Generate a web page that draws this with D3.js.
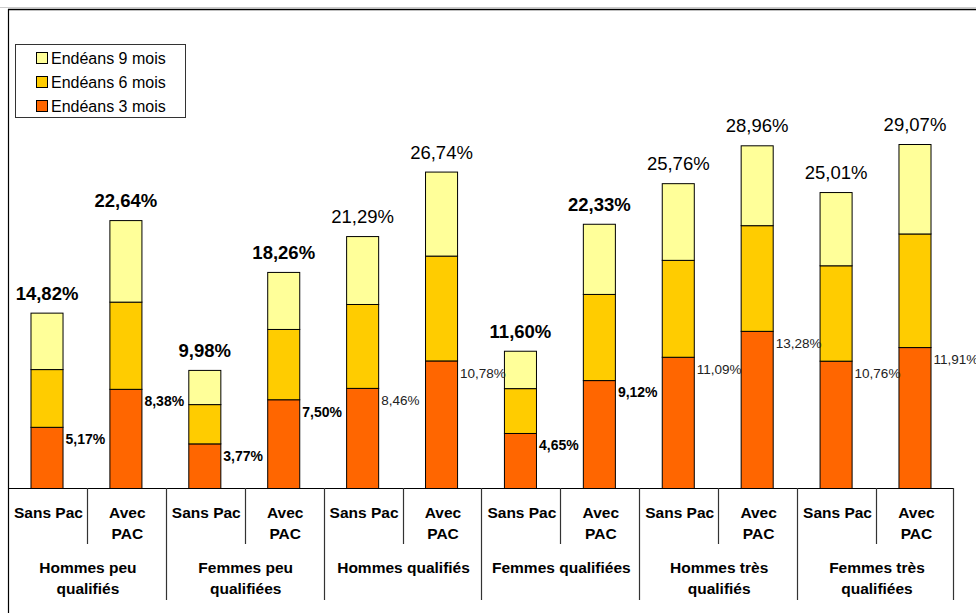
<!DOCTYPE html>
<html>
<head>
<meta charset="utf-8">
<script src="https://cdn.jsdelivr.net/npm/d3@7/dist/d3.min.js"></script>
<style>
  html, body { margin: 0; padding: 0; background: #fff; }
  svg { display: block; font-family: Arial, "Liberation Sans", sans-serif; }
</style>
</head>
<body>
<svg id="chart" width="976" height="613"></svg>
<script>
// Groups and sub-categories
const groups = ["Hommes peu qualifiés", "Femmes peu qualifiées", "Hommes qualifiés",
                "Femmes qualifiées", "Hommes très qualifiés", "Femmes très qualifiées"];
const groupLines = [["Hommes peu", "qualifiés"], ["Femmes peu", "qualifiées"], ["Hommes qualifiés"],
                    ["Femmes qualifiées"], ["Hommes très", "qualifiés"], ["Femmes très", "qualifiées"]];
const subLines = [["Sans Pac"], ["Avec", "PAC"]];

// Cumulative shares (%) per bar, in order of groups x (Sans Pac, Avec PAC)
const within3 = [5.17, 8.38, 3.77, 7.50, 8.46, 10.78, 4.65, 9.12, 11.09, 13.28, 10.76, 11.91];
const within6 = [10.05, 15.75, 7.09, 13.44, 15.55, 19.64, 8.44, 16.40, 19.28, 22.21, 18.82, 21.51];
const within9 = [14.82, 22.64, 9.98, 18.26, 21.29, 26.74, 11.60, 22.33, 25.76, 28.96, 25.01, 29.07];
// Bars whose labels are set in bold
const boldLabel = [true, true, true, true, false, false, true, true, false, false, false, false];

const seriesNames = ["Endéans 9 mois", "Endéans 6 mois", "Endéans 3 mois"];
const seriesColors = ["#FFFF99", "#FFCC00", "#FF6600"];

const fmt = v => v.toFixed(2).replace(".", ",") + "%";

const svg = d3.select("#chart");
const left = 8, right = 953, base = 488;

const x = d3.scaleBand()
  .domain(d3.range(within9.length))
  .range([left, right])
  .paddingInner(0.594)
  .paddingOuter(0.285);
const y = d3.scaleLinear().domain([0, 30]).range([base, base - 355]);

// Outer frame
svg.append("line").attr("x1", 0).attr("x2", 976).attr("y1", 7.5).attr("y2", 7.5)
  .attr("stroke", "#ccc").attr("stroke-width", 1);
svg.append("line").attr("x1", left).attr("x2", 976).attr("y1", 9.5).attr("y2", 9.5)
  .attr("stroke", "#000").attr("stroke-width", 1.5);
svg.append("line").attr("x1", left + 0.5).attr("x2", left + 0.5).attr("y1", 9).attr("y2", 613)
  .attr("stroke", "#000").attr("stroke-width", 1.2);

// Stacked bars
const stacks = within9.map((t, i) => [
  { lo: 0, hi: within3[i], c: seriesColors[2] },
  { lo: within3[i], hi: within6[i], c: seriesColors[1] },
  { lo: within6[i], hi: t, c: seriesColors[0] }
]);
const barG = svg.append("g");
stacks.forEach((segs, i) => {
  barG.selectAll(null).data(segs).enter().append("rect")
    .attr("x", x(i) + 0.5)
    .attr("width", x.bandwidth())
    .attr("y", d => y(d.hi) + 0.5)
    .attr("height", d => y(d.lo) - y(d.hi))
    .attr("fill", d => d.c)
    .attr("stroke", "#000")
    .attr("stroke-width", 1);
});

// Total labels above bars
svg.append("g").selectAll("text").data(within9).enter().append("text")
  .attr("x", (d, i) => x(i) + x.bandwidth() / 2 + 0.5)
  .attr("y", d => y(d) - 13)
  .attr("text-anchor", "middle")
  .attr("font-size", 18.5)
  .attr("font-weight", (d, i) => boldLabel[i] ? "bold" : "normal")
  .attr("fill", "#000")
  .text(fmt);

// 3-month labels beside the bars
svg.append("g").selectAll("text").data(within3).enter().append("text")
  .attr("x", (d, i) => x(i) + x.bandwidth() + 3)
  .attr("y", d => y(d) + 12.5)
  .attr("dy", "0.35em")
  .attr("font-size", (d, i) => boldLabel[i] ? 14 : 13.5)
  .attr("font-weight", (d, i) => boldLabel[i] ? "bold" : "normal")
  .attr("fill", (d, i) => boldLabel[i] ? "#000" : "#222")
  .text(fmt);

// Category table under the baseline
const axisG = svg.append("g");
axisG.append("line").attr("x1", left).attr("x2", right).attr("y1", base + 0.5).attr("y2", base + 0.5)
  .attr("stroke", "#000");
const step = x.step();
within9.forEach((d, i) => {
  const sx = left + i * step;
  if (i > 0) {
    const isGroup = i % 2 === 0;
    axisG.append("line").attr("x1", Math.round(sx) + 0.5).attr("x2", Math.round(sx) + 0.5)
      .attr("y1", base).attr("y2", isGroup ? 600 : 544)
      .attr("stroke", "#333").attr("stroke-width", 1.2);
  }
  const lines = subLines[i % 2];
  lines.forEach((t, k) => {
    axisG.append("text")
      .attr("x", sx + step / 2 + 1)
      .attr("y", 513 + k * 21)
      .attr("dy", "0.35em")
      .attr("text-anchor", "middle")
      .attr("font-size", 15.5)
      .attr("font-weight", "bold")
      .text(t);
  });
});
axisG.append("line").attr("x1", right + 0.5).attr("x2", right + 0.5).attr("y1", base).attr("y2", 600)
  .attr("stroke", "#333").attr("stroke-width", 1.2);
groupLines.forEach((ls, g) => {
  const cx = left + (g + 1) * step * 2 - step;
  ls.forEach((t, k) => {
    axisG.append("text")
      .attr("x", cx + 1)
      .attr("y", 568 + k * 20.5)
      .attr("dy", "0.35em")
      .attr("text-anchor", "middle")
      .attr("font-size", 15.5)
      .attr("font-weight", "bold")
      .text(t);
  });
});

// Legend
const lg = svg.append("g");
lg.append("rect").attr("x", 15.5).attr("y", 44.5).attr("width", 170).attr("height", 73)
  .attr("fill", "#fff").attr("stroke", "#333").attr("stroke-width", 1);
seriesNames.forEach((n, k) => {
  const cy = 58 + k * 24;
  lg.append("rect").attr("x", 36.5).attr("y", cy - 5.5).attr("width", 11).attr("height", 11)
    .attr("fill", seriesColors[k]).attr("stroke", "#000").attr("stroke-width", 1);
  lg.append("text").attr("x", 51).attr("y", cy).attr("dy", "0.35em")
    .attr("font-size", 16).attr("fill", "#000").text(n);
});
</script>
</body>
</html>
